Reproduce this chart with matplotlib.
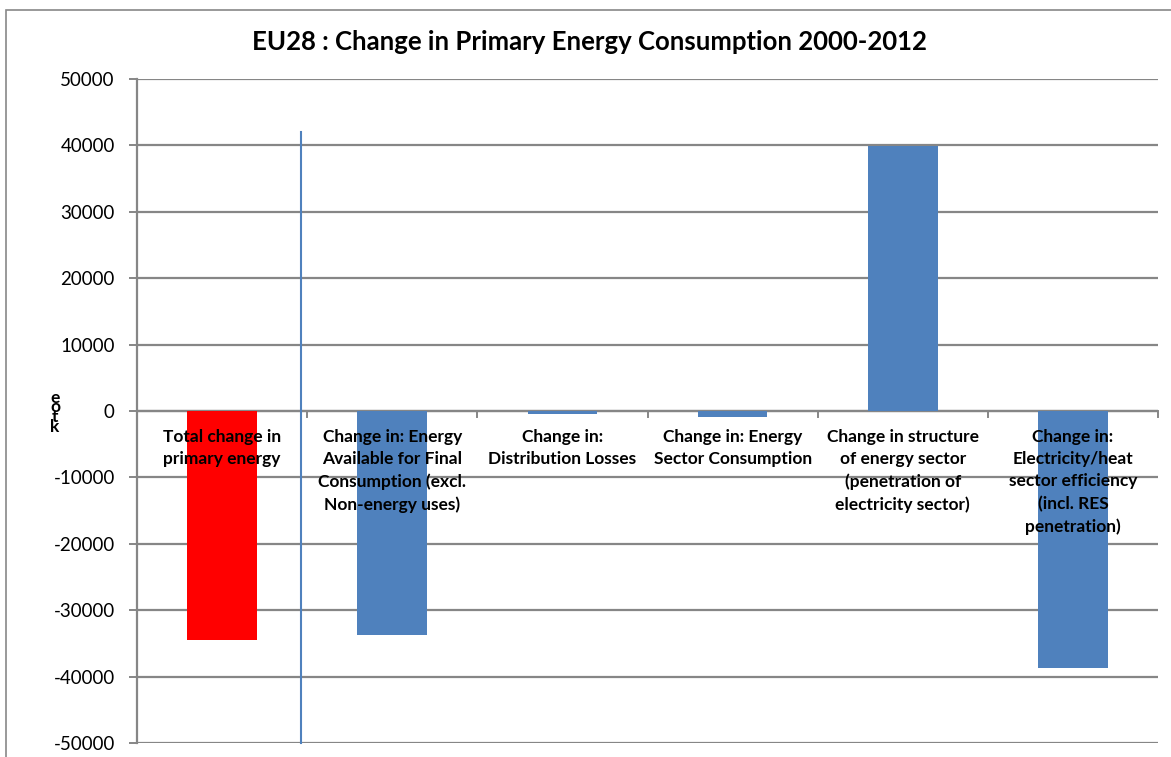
import matplotlib
matplotlib.use("Agg")
import matplotlib.pyplot as plt
from matplotlib.patches import Rectangle

categories = [
    "Total change in\nprimary energy",
    "Change in: Energy\nAvailable for Final\nConsumption (excl.\nNon-energy uses)",
    "Change in:\nDistribution Losses",
    "Change in: Energy\nSector Consumption",
    "Change in structure\nof energy sector\n(penetration of\nelectricity sector)",
    "Change in:\nElectricity/heat\nsector efficiency\n(incl. RES\npenetration)",
]
values = [-34500, -33700, -500, -900, 39900, -38700]
bar_colors = ["#FF0000", "#4F81BD", "#4F81BD", "#4F81BD", "#4F81BD", "#4F81BD"]
yticks = list(range(-50000, 50001, 10000))
title = "EU28 : Change in Primary Energy Consumption 2000-2012"
ylabel_letters = ["e", "o", "t", "k"]

FONT = ["Lato", "DejaVu Sans"]
plt.rcParams["font.family"] = FONT

fig = plt.figure(figsize=(11.71, 7.57), dpi=100)
fig.patches.append(Rectangle((6/1171, -0.1), 1.2, 1 - 10/757 + 0.1, transform=fig.transFigure,
                             fill=False, edgecolor="#888888", linewidth=1.2))
ax = fig.add_axes([137/1171, 1 - 743/757, (1158-137)/1171, (743-79)/757])

x = list(range(len(categories)))
ax.bar(x, values, width=0.41, color=bar_colors, zorder=3)
ax.set_xlim(-0.5, len(categories) - 0.5)
ax.set_ylim(-50000, 50000)
ax.set_yticks(yticks)
ax.set_yticklabels([str(v) for v in yticks], fontsize=13.5)
ax.yaxis.grid(True, color="#868686", linewidth=1.6, zorder=0)
ax.set_axisbelow(True)
ax.tick_params(axis="y", length=6, width=1.4, color="#868686", pad=10)
ax.set_xticks([])
for s in ["top", "right", "bottom"]:
    ax.spines[s].set_visible(False)
ax.spines["left"].set_color("#868686")
ax.spines["left"].set_linewidth(1.6)

# zero axis line with tick marks at category boundaries
ax.axhline(0, color="#868686", linewidth=1.6, zorder=2)
for b in [i + 0.5 for i in range(len(categories) - 1)] + [len(categories) - 0.5]:
    ax.plot([b, b], [0, -900], color="#868686", linewidth=1.4, zorder=2, clip_on=False)

# vertical blue line
ax.plot([0.465, 0.465], [42000, -50000], color="#4F81BD", linewidth=1.5, zorder=4, clip_on=False)

for i, lab in enumerate(categories):
    ax.text(i, -2700, lab, ha="center", va="top", fontsize=12.5, fontweight="bold",
            linespacing=1.48, zorder=5)

fig.text(589/1171, 1 - 42/757, title, ha="center", va="center", fontsize=18.5, fontweight="bold")

for j, ch in enumerate(ylabel_letters):
    fig.text(55/1171, 1 - (398 + j * 9.5)/757, ch, ha="center", va="center",
             fontsize=12.5, fontweight="bold")

fig.savefig("out.png", dpi=100)
